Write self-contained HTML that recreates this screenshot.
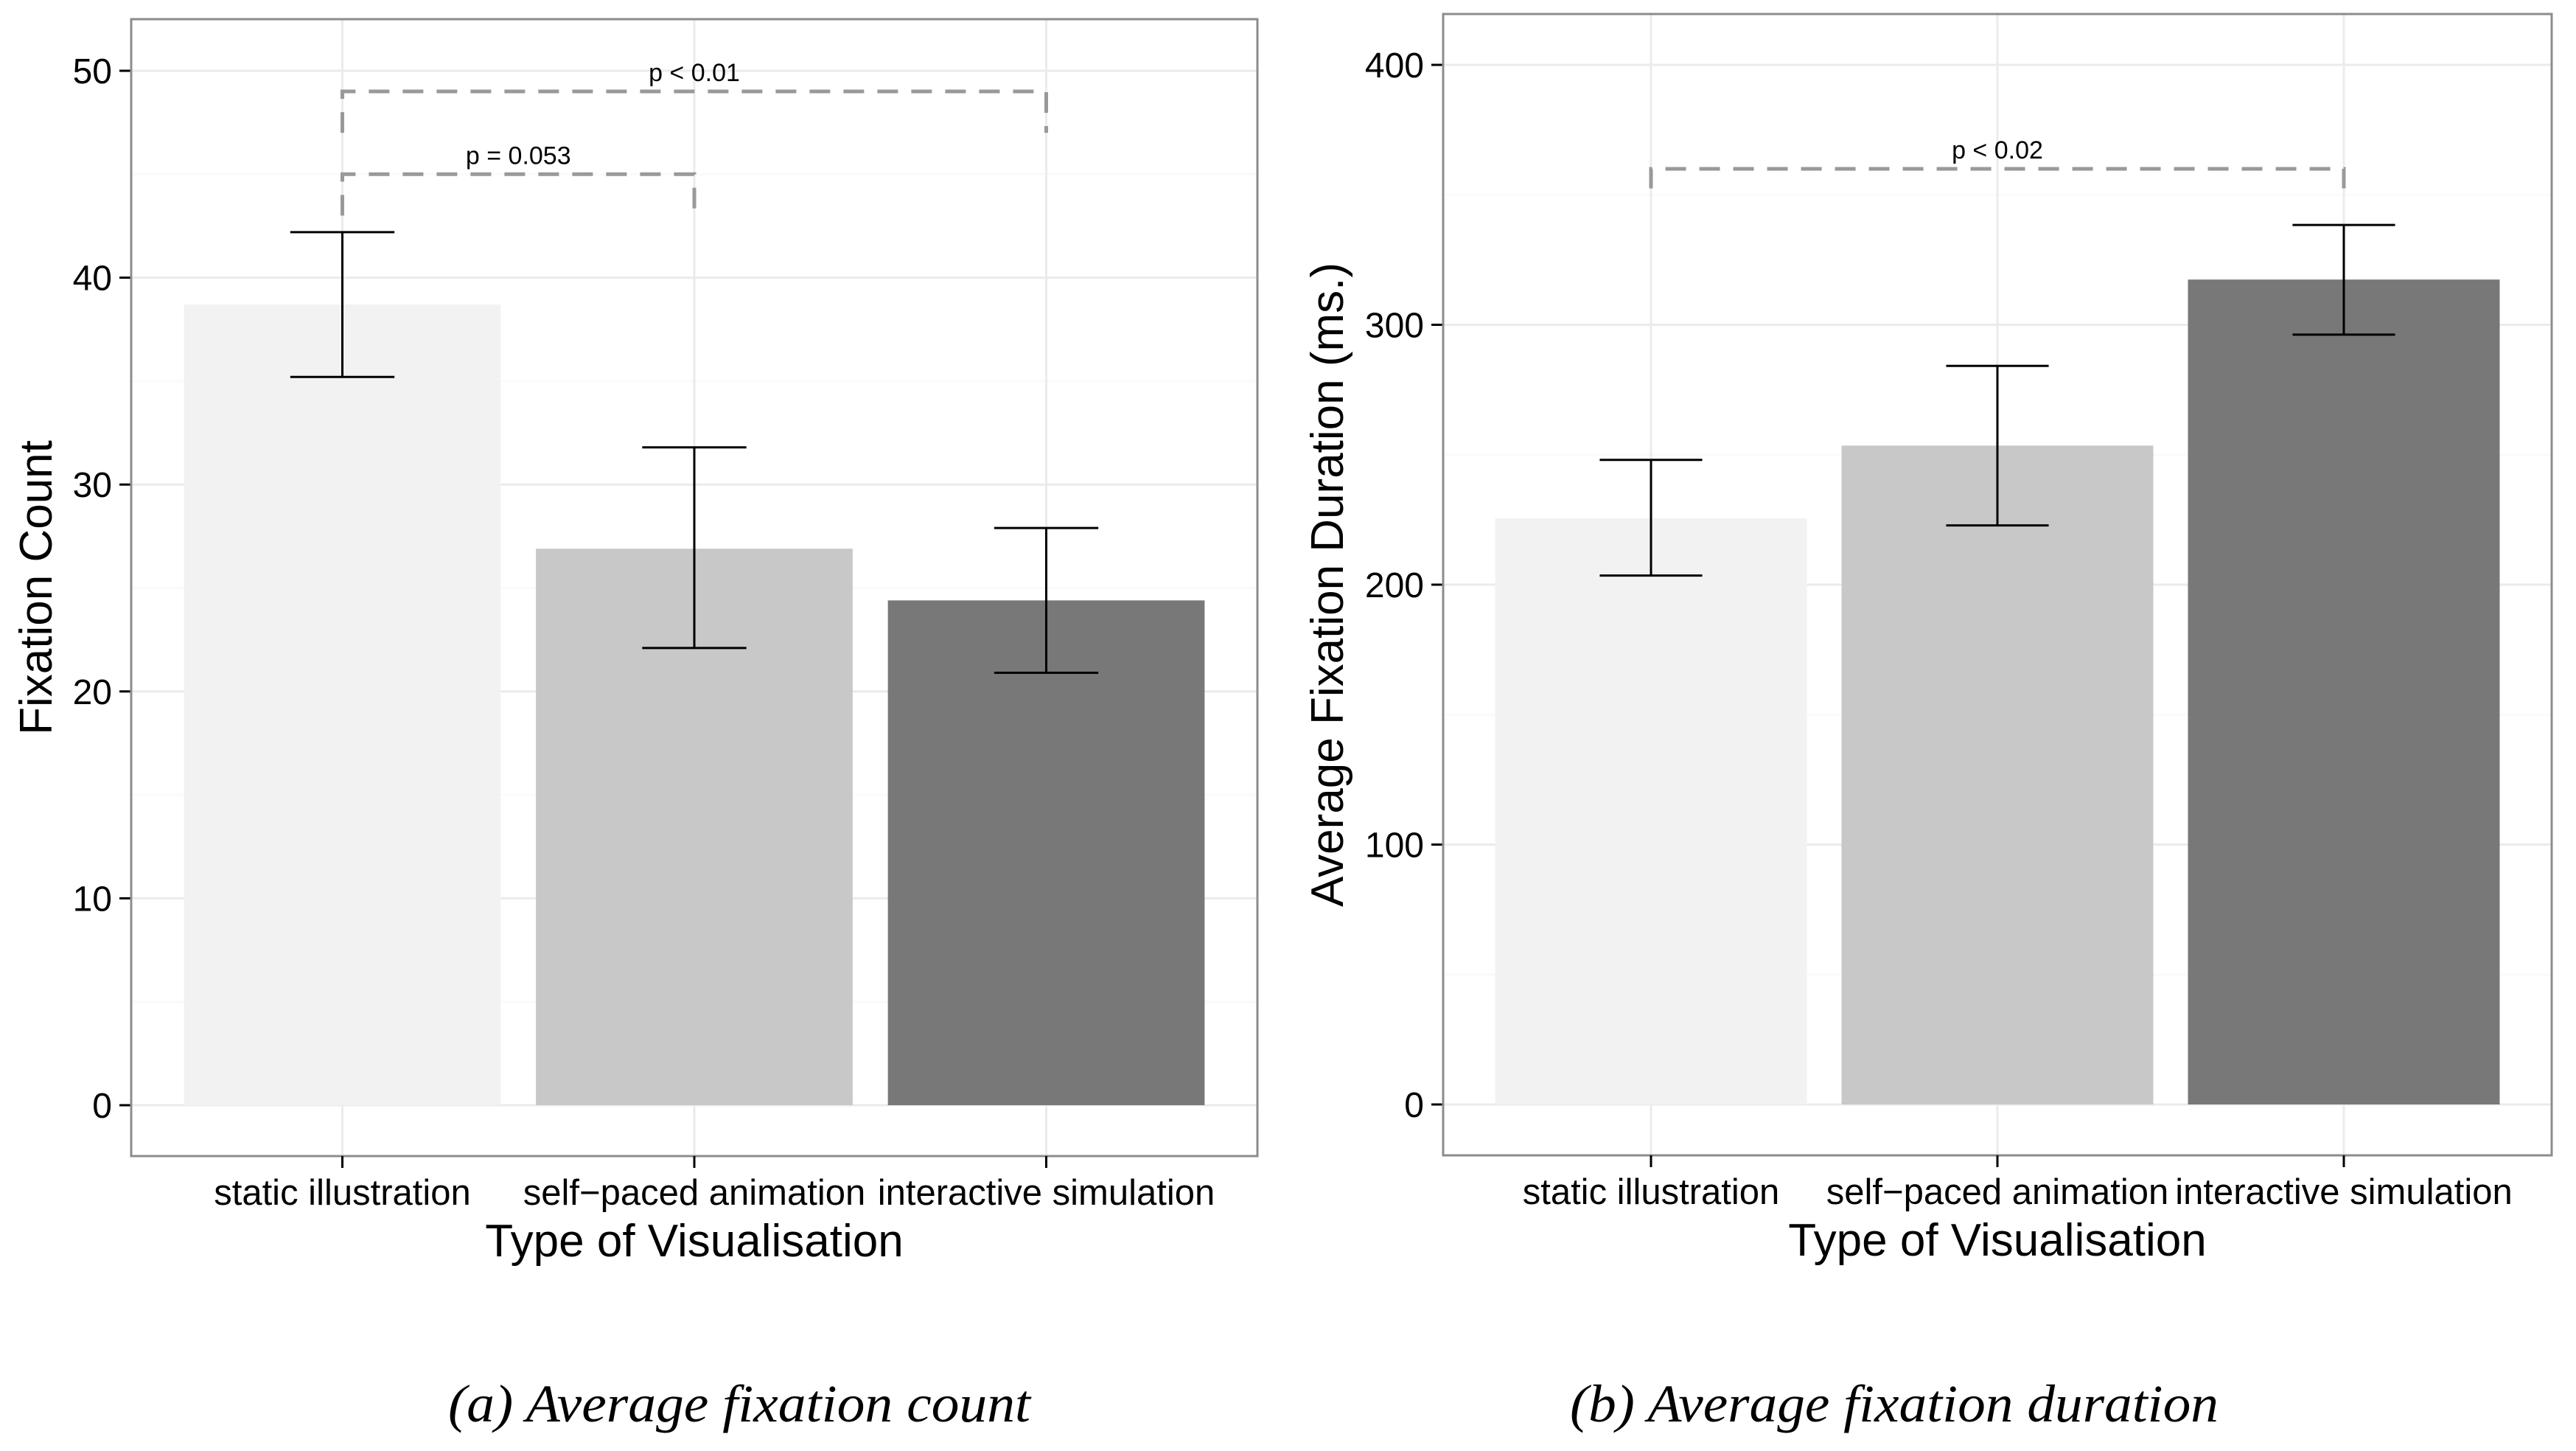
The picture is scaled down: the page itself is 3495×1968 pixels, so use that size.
<!DOCTYPE html>
<html><head><meta charset="utf-8"><style>
html,body{margin:0;padding:0;background:#fff;}
svg{display:block;}
text{font-family:"Liberation Sans",sans-serif;}
</style></head><body>
<svg id="fig" width="3495" height="1968" viewBox="0 0 3495 1968" xmlns="http://www.w3.org/2000/svg">
<text x="608" y="1928" textLength="790" lengthAdjust="spacingAndGlyphs" style="font-family:'Liberation Serif',serif;font-style:italic;font-size:72px">(a) Average fixation count</text>
<text x="2130" y="1928" textLength="880" lengthAdjust="spacingAndGlyphs" style="font-family:'Liberation Serif',serif;font-style:italic;font-size:72px">(b) Average fixation duration</text>
</svg>
<script>
const categories = ["static illustration", "self\u2212paced animation", "interactive simulation"];
const countValues = [38.7, 26.9, 24.4];
const countLow = [35.2, 22.1, 20.9];
const countHigh = [42.2, 31.8, 27.9];
const countTicks = [0, 10, 20, 30, 40, 50];
const durValues = [225.5, 253.5, 317.4];
const durLow = [203.5, 222.8, 296.2];
const durHigh = [248.0, 284.2, 338.4];
const durTicks = [0, 100, 200, 300, 400];
const barColors = ["#f2f2f2", "#c8c8c8", "#787878"];
const countBrackets = [[0, 1, 45, 43, "p = 0.053"], [0, 2, 49, 47, "p < 0.01"]];
const durBrackets = [[0, 2, 360, 352.5, "p < 0.02"]];

const NS = "http://www.w3.org/2000/svg";
const svg = document.getElementById("fig");
function mk(tag, attrs, parent) {
  const e = document.createElementNS(NS, tag);
  for (const k in attrs) e.setAttribute(k, attrs[k]);
  (parent || svg).appendChild(e);
  return e;
}

function panel(p) {
  const g = mk("g", {});
  
  
  const step = (p.x1 - p.x0) / 3.2;
  const xs = i => p.x0 + (i + 0.6) * step;
  const ys = v => p.y0pix - v * p.ppu;
  for (let i = 0; i < p.ticks.length - 1; i++) {
    const v = (p.ticks[i] + p.ticks[i + 1]) / 2;
    const l = mk("line", {x1: p.x0, x2: p.x1, y1: ys(v), y2: ys(v), stroke: "#fafafa", "stroke-width": 3}, g);
    
    
  }
  {
    const v = p.ticks[p.ticks.length - 1] + (p.ticks[1] - p.ticks[0]) / 2;
    if (ys(v) > p.top) { const l = mk("line", {x1: p.x0, x2: p.x1, y1: ys(v), y2: ys(v), stroke: "#fafafa", "stroke-width": 3}, g);
      
       }
  }
  p.ticks.forEach(t => {
    const l = mk("line", {x1: p.x0, x2: p.x1, y1: ys(t), y2: ys(t), stroke: "#ebebeb", "stroke-width": 3}, g);
    
    
    const tk = mk("line", {x1: p.x0 - 16, x2: p.x0, y1: ys(t), y2: ys(t), stroke: "#000", "stroke-width": 3}, g);
    
    
    const tx = mk("text", {x: p.x0 - 26, y: ys(t) + 17, "text-anchor": "end", "font-size": 48, fill: "#000"}, g);
    tx.textContent = t;
    
    
  });
  categories.forEach((c, i) => {
    const l = mk("line", {x1: xs(i), x2: xs(i), y1: p.top, y2: p.bottom, stroke: "#ebebeb", "stroke-width": 3}, g);
    
    
  });
  categories.forEach((c, i) => {
    const hw = step * 0.45;
    const b = mk("rect", {x: xs(i) - hw, y: ys(p.vals[i]), width: 2 * hw, height: ys(0) - ys(p.vals[i]), fill: barColors[i]}, g);
    
    
  });
  categories.forEach((c, i) => {
    const eg = mk("g", {stroke: "#000", "stroke-width": 3}, g);
    
    
    const cw = step * 0.148;
    mk("line", {x1: xs(i), x2: xs(i), y1: ys(p.lo[i]), y2: ys(p.hi[i])}, eg);
    mk("line", {x1: xs(i) - cw, x2: xs(i) + cw, y1: ys(p.lo[i]), y2: ys(p.lo[i])}, eg);
    mk("line", {x1: xs(i) - cw, x2: xs(i) + cw, y1: ys(p.hi[i]), y2: ys(p.hi[i])}, eg);
  });
  p.brackets.forEach(br => {
    const a = xs(br[0]), b = xs(br[1]), yt = ys(br[2]), yb = ys(br[3]);
    const pth = mk("path", {d: `M${a},${yb} L${a},${yt} L${b},${yt} L${b},${yb}`, fill: "none", stroke: "#999", "stroke-width": 5, "stroke-dasharray": "28 18"}, g);
    
    
    const t = mk("text", {x: (a + b) / 2, y: yt - 14, "text-anchor": "middle", "font-size": 34, fill: "#000"}, g);
    t.textContent = br[4];
    
    
  });
  const bd = mk("rect", {x: p.x0, y: p.top, width: p.x1 - p.x0, height: p.bottom - p.top, fill: "none", stroke: "#8c8c8c", "stroke-width": 3}, g);
  
  
  categories.forEach((c, i) => {
    const tk = mk("line", {x1: xs(i), x2: xs(i), y1: p.bottom, y2: p.bottom + 16, stroke: "#000", "stroke-width": 3}, g);
    
    
    const tx = mk("text", {x: xs(i), y: p.bottom + 66, "text-anchor": "middle", "font-size": 49, fill: "#000"}, g);
    tx.textContent = c;
    
    
  });
  const xt = mk("text", {x: (p.x0 + p.x1) / 2, y: p.bottom + 136, "text-anchor": "middle", "font-size": 62, fill: "#000"}, g);
  xt.textContent = "Type of Visualisation";
  
  
  const cy = (p.top + p.bottom) / 2;
  const yt = mk("text", {x: 0, y: 0, "text-anchor": "middle", "font-size": 62, fill: "#000", transform: `translate(${p.ytx},${cy}) rotate(-90)`}, g);
  yt.textContent = p.ytitle;
  
  
}

panel({name: "panel-fixation-count", x0: 178, x1: 1706, top: 26, bottom: 1568, y0pix: 1499, ppu: (1499 - 96) / 50,
  ticks: countTicks, vals: countValues, lo: countLow, hi: countHigh, brackets: countBrackets, ytitle: "Fixation Count", ytx: 70});
panel({name: "panel-fixation-duration", x0: 1958, x1: 3462, top: 19, bottom: 1567, y0pix: 1498, ppu: (1498 - 88) / 400,
  ticks: durTicks, vals: durValues, lo: durLow, hi: durHigh, brackets: durBrackets, ytitle: "Average Fixation Duration (ms.)", ytx: 1822});
</script>
</body></html>
